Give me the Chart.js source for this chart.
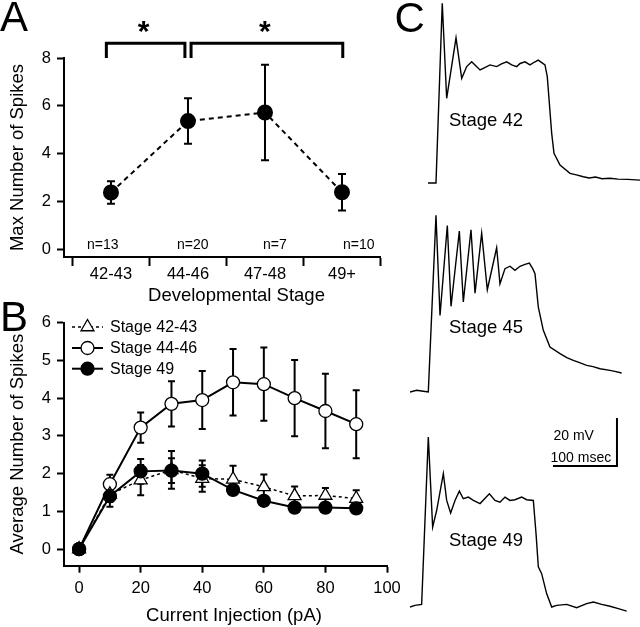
<!DOCTYPE html>
<html>
<head>
<meta charset="utf-8">
<script src="https://cdn.jsdelivr.net/npm/chart.js@4.4.1/dist/chart.umd.min.js"></script>
<style>
  html, body { margin: 0; padding: 0; background: #fff; }
  body { width: 640px; height: 627px; position: relative; overflow: hidden;
         font-family: "Liberation Sans", Arial, Helvetica, sans-serif; color: #000; }
  canvas { position: absolute; }
  .lbl { position: absolute; white-space: nowrap; line-height: 1; }
</style>
</head>
<body>
<canvas id="chartA" width="420" height="305" style="left:0;top:0"></canvas>
<canvas id="chartB" width="420" height="327" style="left:0;top:300px"></canvas>
<canvas id="trace42" width="230" height="190" style="left:410px;top:0"></canvas>
<canvas id="trace45" width="230" height="205" style="left:410px;top:190px"></canvas>
<canvas id="trace49" width="230" height="227" style="left:410px;top:400px"></canvas>

<script>
// ---- panel A: max spikes per developmental stage ----
const stageLabels = ["42-43", "44-46", "47-48", "49+"];
const maxSpikes = [2.37, 5.36, 5.72, 2.38];
const maxSpikesSem = [0.47, 0.95, 2.0, 0.76];
const cellCounts = [13, 20, 7, 10];
const spikeTicks = [0, 2, 4, 6, 8];
// significance brackets, in stage-index units
const sigBrackets = [[-0.06, 0.96], [1.04, 3.01]];

// ---- panel B: average spikes vs current injection ----
const currents = [0, 10, 20, 30, 40, 50, 60, 70, 80, 90];
const currentTicks = [0, 20, 40, 60, 80, 100];
const avgTicks = [0, 1, 2, 3, 4, 5, 6];
const stage4243 = [0, 1.45, 1.83, 2.1, 1.87, 1.85, 1.65, 1.41, 1.42, 1.34];
const stage4243Sem = [0, 0.2, 0.4, 0.5, 0.35, 0.36, 0.33, 0.25, 0.2, 0.22];
const stage4446 = [0, 1.72, 3.22, 3.85, 3.95, 4.42, 4.37, 4.0, 3.66, 3.31];
const stage4446Sem = [0, 0.25, 0.4, 0.6, 0.77, 0.88, 0.97, 1.01, 0.99, 0.9];
const stage49 = [0, 1.4, 2.06, 2.08, 2.0, 1.57, 1.28, 1.1, 1.1, 1.08];
const stage49Sem = [0, 0.28, 0.33, 0.33, 0.35, 0.1, 0.08, 0.05, 0.05, 0.05];

// ---- panel C: voltage traces (ms, mV above rest) ----
const trace42Ms = [28.1, 40.6, 50.4, 57.3, 71.9, 80.8, 88.6, 96.4, 101.5, 109.4, 114.5, 125, 135.4, 143, 151.1, 158.9, 166.7, 172, 179.7, 187.5, 194, 200.4, 210.9, 214.5, 221.4, 225, 234.4, 250, 260, 270.8, 280, 290, 300, 312.5, 325, 340, 359.4];
const trace42Mv = [0, 0, 74.9, 35.3, 60.5, 43.6, 48.5, 50.5, 49.2, 47.1, 47.8, 49.2, 48.5, 49.6, 50.5, 49.2, 48.5, 49.8, 50.5, 49.2, 50.3, 51.2, 49.2, 44.3, 20.7, 12.4, 7.5, 4.0, 3.4, 2.6, 2.1, 2.5, 1.8, 2.0, 1.6, 1.5, 1.2];
const trace45Ms = [0, 10.4, 20.8, 28.6, 40.6, 46.9, 58.3, 64.1, 77.1, 83.3, 95.3, 101.6, 112, 120.8, 135.4, 140.6, 148.4, 156.2, 164, 171.9, 179.7, 186.5, 191.7, 195.3, 200.5, 208.3, 218.7, 234.4, 245, 255.2, 266, 276, 286, 296.9, 312.5, 320, 330.7];
const trace45Mv = [0, 0.7, 0.3, 0, 73.6, 31.9, 69.4, 35.7, 67.1, 37.5, 67.6, 41.2, 66.2, 42.6, 60.1, 45.1, 51.4, 52.4, 50.7, 52.4, 53.2, 53.7, 51.4, 49.3, 35.4, 25.7, 18.7, 16, 14.3, 13.2, 12.1, 11.1, 10.6, 9.7, 9.0, 8.6, 7.9];
const trace49Ms = [0, 7.8, 18.2, 28.6, 35.4, 41.7, 52.1, 57.3, 63.5, 70.3, 77.1, 83.3, 91.1, 99, 109.4, 124, 132.8, 140.6, 148.4, 156.2, 164, 174.5, 182.3, 192.7, 196.9, 200.5, 205.7, 213.5, 221.4, 229.2, 244.8, 260.4, 276, 286.5, 299.5, 312.5, 325.5, 338.5];
const trace49Mv = [0, 0.7, 1.1, 70.8, 33.3, 40.3, 55.6, 44.4, 39.2, 44.4, 48.3, 45.1, 45.8, 44.4, 43.1, 47.2, 44.4, 43.7, 45.8, 44.4, 44.7, 45.8, 44.7, 44.4, 30.6, 16.7, 13.9, 5.6, 0, 0.7, 1.1, -0.3, 1.4, 2.1, 1.1, 0.3, -0.7, -1.7];
const scaleBarMs = 100;
const scaleBarMv = 20;

const FONT = "'Liberation Sans', Arial, Helvetica, sans-serif";
const INK = "#000";

function toPoints(xs, ys) {
  return xs.map((x, i) => ({ x: x, y: ys[i] }));
}

// vertical SEM bars drawn under the markers
const errorBarPlugin = {
  id: "errorBars",
  beforeDatasetsDraw(chart, args, opts) {
    const { ctx } = chart;
    const ys = chart.scales.y;
    chart.data.datasets.forEach((ds, i) => {
      if (!ds.errors) return;
      const meta = chart.getDatasetMeta(i);
      ctx.save();
      ctx.strokeStyle = INK;
      ctx.lineWidth = opts.width;
      meta.data.forEach((pt, j) => {
        const e = ds.errors[j];
        if (!e) return;
        const v = ds.data[j].y;
        const top = ys.getPixelForValue(v + e);
        const bot = ys.getPixelForValue(v - e);
        ctx.beginPath();
        ctx.moveTo(pt.x, top); ctx.lineTo(pt.x, bot);
        ctx.moveTo(pt.x - opts.cap, top); ctx.lineTo(pt.x + opts.cap, top);
        ctx.moveTo(pt.x - opts.cap, bot); ctx.lineTo(pt.x + opts.cap, bot);
        ctx.stroke();
      });
      ctx.restore();
    });
  },
};

// n= labels, brackets and asterisks for panel A
const annotationPlugin = {
  id: "stageNotes",
  afterDatasetsDraw(chart) {
    const { ctx } = chart;
    const xs = chart.scales.x, ys = chart.scales.y;
    const nShift = [-24, -11, -2, 1];
    ctx.save();
    ctx.fillStyle = INK;
    ctx.font = "14px " + FONT;
    ctx.textAlign = "left";
    ctx.textBaseline = "alphabetic";
    cellCounts.forEach((n, i) => {
      ctx.fillText("n=" + n, xs.getPixelForValue(i) + nShift[i], ys.getPixelForValue(0) - 0.3);
    });
    ctx.strokeStyle = INK;
    ctx.lineWidth = 3;
    ctx.lineCap = "butt";
    const yTop = ys.getPixelForValue(8.62);
    const yBot = ys.getPixelForValue(8.0);
    sigBrackets.forEach(([a, b]) => {
      const x1 = xs.getPixelForValue(a), x2 = xs.getPixelForValue(b);
      ctx.beginPath();
      ctx.moveTo(x1, yBot); ctx.lineTo(x1, yTop); ctx.lineTo(x2, yTop); ctx.lineTo(x2, yBot);
      ctx.stroke();
      ctx.font = "bold 30px " + FONT;
      ctx.textAlign = "center";
      ctx.fillText("*", (x1 + x2) / 2 - 2, yTop - 2);
    });
    ctx.restore();
  },
};

// line + marker legend drawn inside the plot of panel B
const lineLegendPlugin = {
  id: "lineLegend",
  afterDatasetsDraw(chart) {
    const { ctx, chartArea } = chart;
    const rows = [4.3, 25.3, 46];
    ctx.save();
    chart.data.datasets.forEach((ds, i) => {
      const y = chartArea.top + rows[i];
      const x0 = chartArea.left + 8, x1 = chartArea.left + 39, xm = (x0 + x1) / 2;
      ctx.strokeStyle = INK;
      ctx.lineWidth = ds.borderWidth;
      ctx.setLineDash(ds.borderDash || []);
      ctx.beginPath(); ctx.moveTo(x0, y); ctx.lineTo(x1, y); ctx.stroke();
      ctx.setLineDash([]);
      ctx.lineWidth = ds.pointBorderWidth;
      ctx.fillStyle = ds.pointBackgroundColor;
      ctx.beginPath();
      if (ds.pointStyle === "triangle") {
        const r = ds.pointRadius;
        ctx.moveTo(xm, y - r);
        ctx.lineTo(xm + r * 0.866, y + r * 0.5);
        ctx.lineTo(xm - r * 0.866, y + r * 0.5);
        ctx.closePath();
      } else {
        ctx.arc(xm, y, ds.pointRadius, 0, Math.PI * 2);
      }
      ctx.fill(); ctx.stroke();
      ctx.fillStyle = INK;
      ctx.font = "16px " + FONT;
      ctx.textAlign = "left";
      ctx.textBaseline = "middle";
      ctx.fillText(ds.label, x1 + 7, y + 0.5);
    });
    ctx.restore();
  },
};

function axisStyle(extra) {
  return Object.assign({
    grid: { display: true, drawOnChartArea: false, drawTicks: true, tickLength: 7, tickWidth: 2, tickColor: INK },
    border: { display: true, color: INK, width: 2 },
    ticks: { color: INK, font: { family: FONT, size: 16.5 }, padding: 6, autoSkip: false, maxRotation: 0 },
  }, extra);
}

// Panel A
new Chart(document.getElementById("chartA"), {
  type: "line",
  data: {
    datasets: [{
      data: toPoints(stageLabels.map((s, i) => i), maxSpikes),
      errors: maxSpikesSem,
      borderColor: INK,
      borderWidth: 2,
      borderDash: [5, 4],
      pointStyle: "circle",
      pointRadius: 7,
      pointBackgroundColor: INK,
      pointBorderColor: INK,
      tension: 0,
    }],
  },
  options: {
    responsive: false,
    animation: false,
    layout: { padding: { top: 58, right: 39.5, left: 0, bottom: 0 } },
    plugins: { legend: { display: false }, tooltip: { enabled: false }, errorBars: { width: 2, cap: 4 } },
    scales: {
      x: axisStyle({
        type: "linear", min: -0.61, max: 3.5,
        afterBuildTicks: (s) => { s.ticks = [-0.5, 0, 0.5, 1, 1.5, 2, 2.5, 3, 3.5].map((v) => ({ value: v })); },
        afterFit: (s) => { s.height = 48; },
        grid: { display: true, drawOnChartArea: false, drawTicks: true, tickLength: 9, tickWidth: 2,
                tickColor: (c) => (Number.isInteger(c.tick.value) ? "rgba(0,0,0,0)" : INK) },
        ticks: { color: INK, font: { family: FONT, size: 16.5 }, padding: -1, autoSkip: false, maxRotation: 0,
                 callback: (v) => (Number.isInteger(v) ? stageLabels[v] : "") },
      }),
      y: axisStyle({
        min: -0.33, max: 8,
        afterBuildTicks: (s) => { s.ticks = spikeTicks.map((v) => ({ value: v })); },
        afterFit: (s) => { s.width = 64; },
        title: { display: true, text: "Max Number of Spikes", color: INK,
                 font: { family: FONT, size: 18.5, lineHeight: 1.2 }, padding: { top: 7, bottom: 0 } },
      }),
    },
  },
  plugins: [errorBarPlugin, annotationPlugin],
});

// Panel B
new Chart(document.getElementById("chartB"), {
  type: "line",
  data: {
    datasets: [
      { label: "Stage 42-43", data: toPoints(currents, stage4243), errors: stage4243Sem,
        borderColor: INK, borderWidth: 1.5, borderDash: [3, 3], pointStyle: "triangle", pointRadius: 7.5,
        pointBackgroundColor: "#fff", pointBorderColor: INK, pointBorderWidth: 1.3, order: 1 },
      { label: "Stage 44-46", data: toPoints(currents, stage4446), errors: stage4446Sem,
        borderColor: INK, borderWidth: 2, pointStyle: "circle", pointRadius: 6.5,
        pointBackgroundColor: "#fff", pointBorderColor: INK, pointBorderWidth: 1.3, order: 2 },
      { label: "Stage 49", data: toPoints(currents, stage49), errors: stage49Sem,
        borderColor: INK, borderWidth: 2, pointStyle: "circle", pointRadius: 6.5,
        pointBackgroundColor: INK, pointBorderColor: INK, pointBorderWidth: 1.3, order: 0 },
    ],
  },
  options: {
    responsive: false,
    animation: false,
    layout: { padding: { top: 22.7, right: 33, left: 0, bottom: 0 } },
    plugins: { legend: { display: false }, tooltip: { enabled: false }, errorBars: { width: 2, cap: 3.5 } },
    scales: {
      x: axisStyle({
        type: "linear", min: -4.9, max: 100,
        afterBuildTicks: (s) => { s.ticks = currentTicks.map((v) => ({ value: v })); },
        afterFit: (s) => { s.height = 61.3; },
      }),
      y: axisStyle({
        min: -0.44, max: 6,
        afterBuildTicks: (s) => { s.ticks = avgTicks.map((v) => ({ value: v })); },
        afterFit: (s) => { s.width = 64; },
        title: { display: true, text: "Average Number of Spikes", color: INK,
                 font: { family: FONT, size: 18.5, lineHeight: 1.2 }, padding: { top: 7, bottom: 0 } },
      }),
    },
  },
  plugins: [errorBarPlugin, lineLegendPlugin],
});

// Panel C: shared scale, 100 ms = 64 px, 20 mV = 48 px
const PX_PER_MS = 0.64;
const PX_PER_MV = 2.4;

function traceChart(id, ms, mv, baselinePx, extra) {
  const cv = document.getElementById(id);
  const datasets = [{ data: toPoints(ms, mv), borderColor: INK, borderWidth: 1.4, pointRadius: 0, tension: 0 }];
  if (extra) datasets.push(extra);
  new Chart(cv, {
    type: "line",
    data: { datasets: datasets },
    options: {
      responsive: false,
      animation: false,
      layout: { padding: 0 },
      plugins: { legend: { display: false }, tooltip: { enabled: false } },
      datasets: { line: { clip: false } },
      scales: {
        x: { type: "linear", display: false, min: 0, max: cv.width / PX_PER_MS },
        y: { display: false, min: -(cv.height - baselinePx) / PX_PER_MV, max: baselinePx / PX_PER_MV },
      },
    },
  });
}

traceChart("trace42", trace42Ms, trace42Mv, 183);
traceChart("trace45", trace45Ms, trace45Mv, 202);
// scale bar anchored at its corner (ms, mV in the Stage 49 frame)
const barT = 323.4, barV = 58.75;
traceChart("trace49", trace49Ms, trace49Mv, 207, {
  data: [{ x: barT - scaleBarMs, y: barV }, { x: barT, y: barV }, { x: barT, y: barV + scaleBarMv }],
  borderColor: INK, borderWidth: 2, pointRadius: 0, tension: 0,
});

// text labels
function addLabel(text, x, baseline, size, align) {
  const el = document.createElement("div");
  el.className = "lbl";
  el.textContent = text;
  el.style.fontSize = size + "px";
  el.style.top = (baseline - 0.8465 * size) + "px";
  el.style.left = x + "px";
  if (align === "center") el.style.transform = "translateX(-50%)";
  document.body.appendChild(el);
}
addLabel("A", 0, 32, 42);
addLabel("B", 0, 331.5, 42);
addLabel("C", 394.5, 33, 42);
addLabel("Developmental Stage", 236.5, 302, 18.5, "center");
addLabel("Current Injection (pA)", 234, 622, 18.5, "center");
addLabel("Stage 42", 449, 126.5, 18.5);
addLabel("Stage 45", 449, 334, 18.5);
addLabel("Stage 49", 449, 546.5, 18.5);
addLabel(scaleBarMv + " mV", 553.5, 439.5, 14);
addLabel(scaleBarMs + " msec", 550.5, 461.5, 14);
</script>
</body>
</html>
